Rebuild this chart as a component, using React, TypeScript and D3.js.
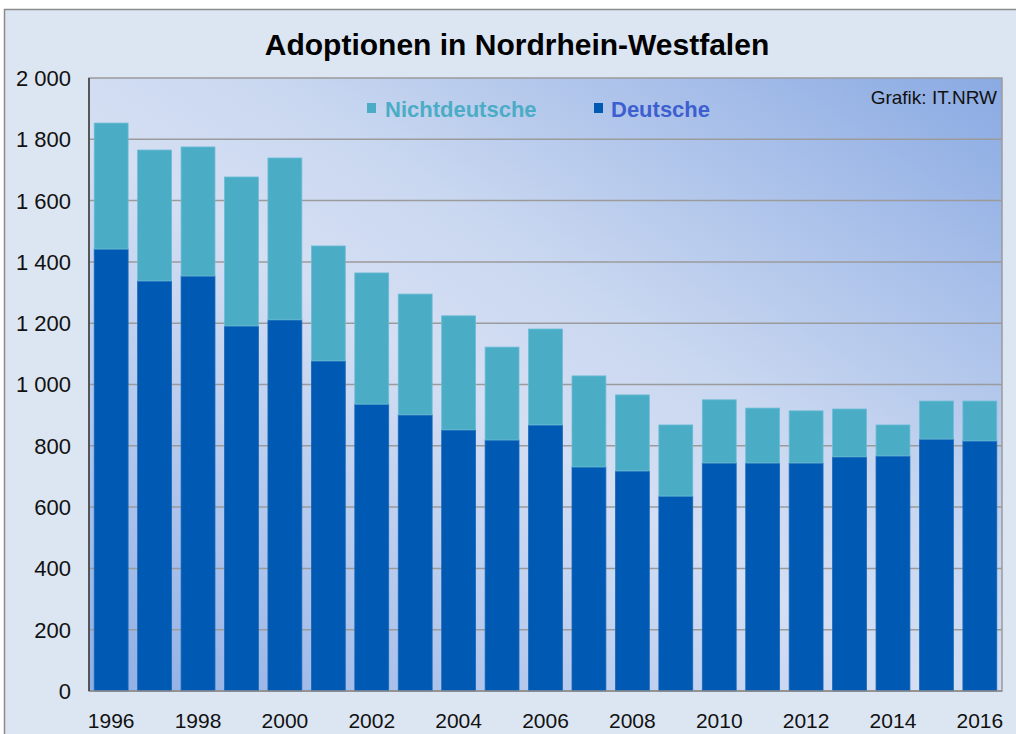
import { useEffect, useRef } from 'react';
import * as d3 from 'd3';

// Adoptionen in NRW, gelesen aus der Grafik
const years = [1996, 1997, 1998, 1999, 2000, 2001, 2002, 2003, 2004, 2005, 2006, 2007, 2008, 2009, 2010, 2011, 2012, 2013, 2014, 2015, 2016];
const deutsche = [1442, 1338, 1354, 1191, 1211, 1077, 936, 901, 852, 819, 868, 731, 718, 636, 744, 744, 744, 764, 767, 822, 816];
const nichtdeutsche = [411, 427, 421, 486, 528, 375, 428, 394, 372, 303, 313, 297, 248, 232, 206, 179, 170, 156, 101, 124, 130];
const yTicks = [0, 200, 400, 600, 800, 1000, 1200, 1400, 1600, 1800, 2000];
const xLabelYears = [1996, 1998, 2000, 2002, 2004, 2006, 2008, 2010, 2012, 2014, 2016];

const seriesNames = ['Deutsche', 'Nichtdeutsche'];
const colors: Record<string, string> = { Deutsche: '#0059b3', Nichtdeutsche: '#4bacc6' };

const App = () => {
  const svgRef = useRef<SVGSVGElement>(null);

  useEffect(() => {
    if (!svgRef.current) return;
    const svg = d3.select(svgRef.current);
    svg.selectAll('*').remove();

    const width = 1016;
    const height = 734;
    const left = 89, right = 1002, top = 78, bottom = 691;
    const font = 'Liberation Sans, Arial, sans-serif';

    // äußerer Rahmen
    svg.append('rect')
      .attr('x', 4.5).attr('y', 9.5)
      .attr('width', width + 10).attr('height', height + 10)
      .attr('fill', '#dce6f2')
      .attr('stroke', '#8c8c8c')
      .attr('stroke-width', 1.5);

    // Hintergrund Plotbereich
    const defs = svg.append('defs');
    const grad = defs.append('linearGradient')
      .attr('id', 'plotBg')
      .attr('x1', 0).attr('y1', 1).attr('x2', 1).attr('y2', 0);
    grad.append('stop').attr('offset', '0%').attr('stop-color', '#8eaee5');
    grad.append('stop').attr('offset', '45%').attr('stop-color', '#d5dff3');
    grad.append('stop').attr('offset', '60%').attr('stop-color', '#c9d7f0');
    grad.append('stop').attr('offset', '100%').attr('stop-color', '#8aaae3');

    svg.append('rect')
      .attr('x', left).attr('y', top)
      .attr('width', right - left).attr('height', bottom - top)
      .attr('fill', 'url(#plotBg)')
      .attr('stroke', '#9a9a9a')
      .attr('stroke-width', 1.5);

    const x = d3.scaleBand<number>()
      .domain(years)
      .range([left, right])
      .paddingInner(0.22)
      .paddingOuter(0.12);

    const y = d3.scaleLinear()
      .domain([0, 2000])
      .range([bottom, top]);

    const fmt = d3.formatLocale({ decimal: ',', thousands: ' ', grouping: [3], currency: ['', ' €'] }).format(',d');

    // Gitterlinien
    svg.append('g')
      .selectAll('line')
      .data(yTicks.filter(t => t > 0 && t < 2000))
      .join('line')
      .attr('x1', left).attr('x2', right)
      .attr('y1', d => y(d)).attr('y2', d => y(d))
      .attr('stroke', '#9b9b9b')
      .attr('stroke-width', 1.5);

    // gestapelte Balken
    const rows = years.map((yr, i) => ({ year: yr, Deutsche: deutsche[i], Nichtdeutsche: nichtdeutsche[i] }));
    const stack = d3.stack<any>().keys(seriesNames)(rows);

    stack.forEach(layer => {
      svg.append('g')
        .selectAll('rect')
        .data(layer)
        .join('rect')
        .attr('x', d => x(d.data.year)!)
        .attr('width', x.bandwidth())
        .attr('y', d => y(d[1]))
        .attr('height', d => y(d[0]) - y(d[1]))
        .attr('fill', colors[layer.key])
        .attr('stroke', layer.key === 'Deutsche' ? '#1a68b8' : '#6cbcd4')
        .attr('stroke-width', 0.8);
    });

    // Achsenlinien
    svg.append('line')
      .attr('x1', left).attr('x2', right)
      .attr('y1', bottom).attr('y2', bottom)
      .attr('stroke', '#8c8c8c').attr('stroke-width', 1.5);
    svg.append('line')
      .attr('x1', left).attr('x2', left)
      .attr('y1', top).attr('y2', bottom)
      .attr('stroke', '#3a3a3a').attr('stroke-width', 1.5);

    // Y-Beschriftung
    svg.append('g')
      .selectAll('text')
      .data(yTicks)
      .join('text')
      .attr('x', 71)
      .attr('y', d => y(d))
      .attr('dy', '0.36em')
      .attr('text-anchor', 'end')
      .attr('font-family', font)
      .attr('font-size', 22)
      .attr('fill', '#111')
      .text(d => fmt(d));

    // X-Beschriftung
    svg.append('g')
      .selectAll('text')
      .data(xLabelYears)
      .join('text')
      .attr('x', d => x(d)! + x.bandwidth() / 2)
      .attr('y', 728)
      .attr('text-anchor', 'middle')
      .attr('font-family', font)
      .attr('font-size', 21)
      .attr('fill', '#111')
      .text(d => String(d));

    // Titel
    svg.append('text')
      .attr('x', 517)
      .attr('y', 55)
      .attr('text-anchor', 'middle')
      .attr('font-family', font)
      .attr('font-weight', 'bold')
      .attr('font-size', 30)
      .attr('fill', '#000')
      .text('Adoptionen in Nordrhein-Westfalen');

    // Quelle
    svg.append('text')
      .attr('x', 997)
      .attr('y', 104)
      .attr('text-anchor', 'end')
      .attr('font-family', font)
      .attr('font-size', 19)
      .attr('fill', '#111')
      .text('Grafik: IT.NRW');

    // Legende
    const legend = [
      { key: 'Nichtdeutsche', sx: 367, tx: 385, textColor: '#4bacc6' },
      { key: 'Deutsche', sx: 594, tx: 611, textColor: '#3d5fcf' },
    ];
    legend.forEach(l => {
      svg.append('rect')
        .attr('x', l.sx).attr('y', 103)
        .attr('width', 9).attr('height', 10)
        .attr('fill', colors[l.key]);
      svg.append('text')
        .attr('x', l.tx).attr('y', 117)
        .attr('font-family', font)
        .attr('font-weight', 'bold')
        .attr('font-size', 22)
        .attr('fill', l.textColor)
        .text(l.key);
    });
  }, []);

  return (
    <svg
      ref={svgRef}
      width="1016"
      height="734"
      style={{ position: 'absolute', left: 0, top: 0, background: '#fff' }}
    />
  );
};

export default App;
